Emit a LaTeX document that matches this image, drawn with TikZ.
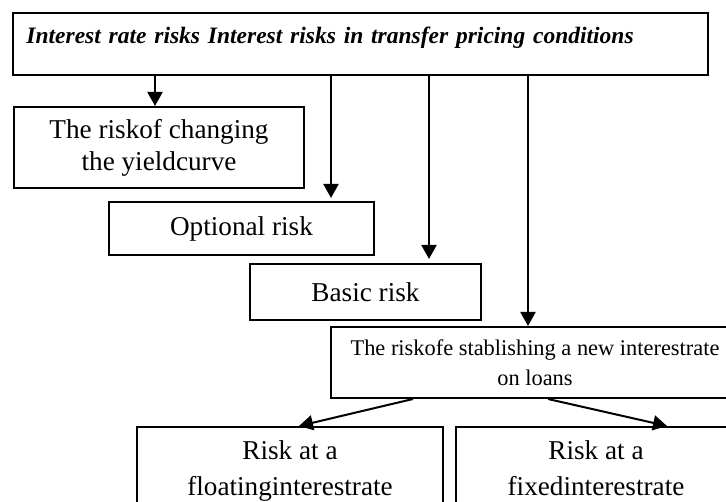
\documentclass[tikz,border=0pt]{standalone}
\usepackage{fontspec}
\setmainfont{Liberation Serif}
\usetikzlibrary{arrows.meta}
\begin{document}
\begin{tikzpicture}[x=1pt,y=-1pt,
		box/.style={draw,line width=2pt,anchor=north west,align=center,inner sep=0pt},
		arr/.style={line width=2pt,-{Triangle[length=14pt,width=15pt]}},
		big/.style={font=\fontsize{27.2}{32}\selectfont},
		small/.style={font=\fontsize{22.4}{30}\selectfont}]
			\useasboundingbox(0,0) rectangle (726,502);
			\clip(0,0) rectangle (726,502);
			\node[box,minimum width=695pt,text width=668pt,align=left,text height=30.3pt,text depth=31.7pt,
				font=\fontsize{23.5}{26}\selectfont\bfseries\itshape] (top) at (12,12)
				{Interest rate risks Interest risks in transfer pricing conditions\hfill};
			\node[box,big,minimum width=290pt,minimum height=81pt] (yield) at (13,106) {The riskof changing\\the yieldcurve};
			\node[box,big,minimum width=265pt,minimum height=53pt] (option) at (108,201) {Optional risk};
			\node[box,big,minimum width=231pt,minimum height=56pt] (basic) at (249,263) {Basic risk};
			\node[box,small,minimum width=408pt,minimum height=71pt] (newrate) at (330,326) {The riskofe stablishing a new interestrate\\on loans};
			\node[box,big,font=\fontsize{27.2}{36}\selectfont,minimum width=306pt,minimum height=92pt] (floating) at (136,426) {Risk at a\\floatinginterestrate\strut};
			\node[box,big,font=\fontsize{27.2}{36}\selectfont,minimum width=280pt,minimum height=92pt] (fixed) at (455,426) {Risk at a\\fixedinterestrate\strut};
			% arrow ends
			\coordinate (a1) at ([xshift=-4pt]yield.north);
			\coordinate (a2) at ([xshift=-44pt,yshift=3pt]option.north east);
			\coordinate (a3) at ([xshift=-53pt,yshift=4pt]basic.north east);
			\coordinate (a4) at ([xshift=-7pt]newrate.north);
			\draw[arr](top.south -| a1)--(a1);
			\draw[arr](top.south -| a2)--(a2);
			\draw[arr](top.south -| a3)--(a3);
			\draw[arr](top.south -| a4)--(a4);
			\draw[arr]([xshift=83pt]newrate.south west)--([xshift=9pt]floating.north);
			\draw[arr]([xshift=218pt]newrate.south west)--([xshift=212pt]fixed.north west);
		\end{tikzpicture}
\end{document}
